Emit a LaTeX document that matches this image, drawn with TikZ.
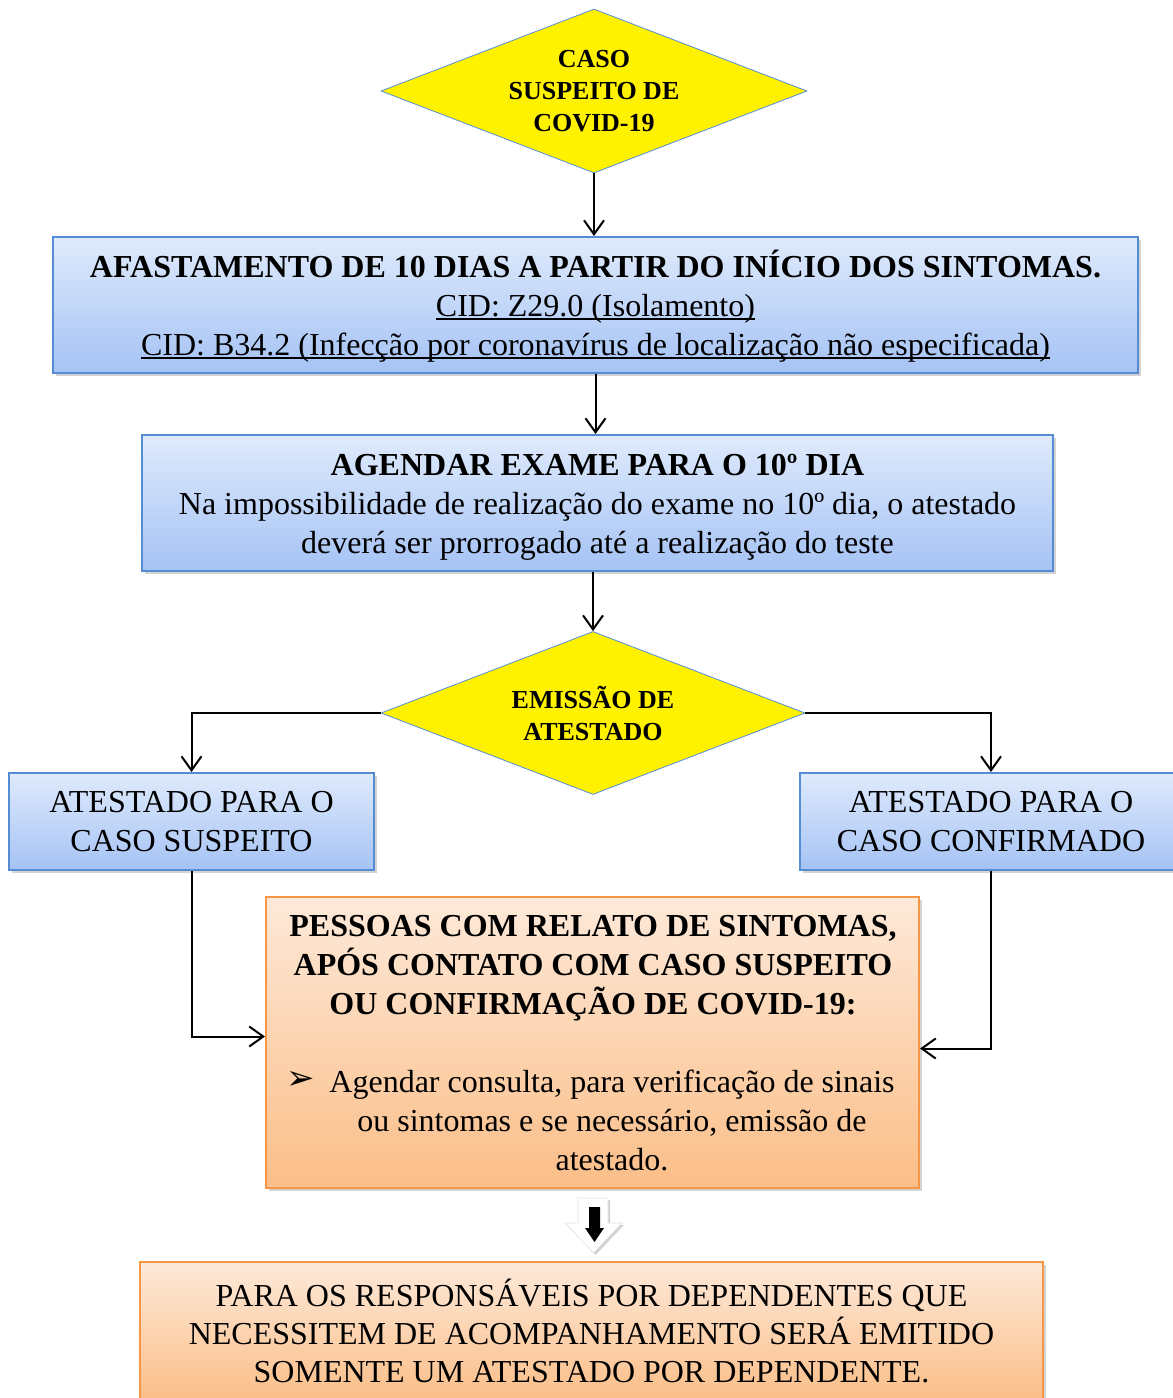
\documentclass[tikz,border=0pt]{standalone}
\usepackage{fontspec}
\setmainfont{Liberation Serif}
\newfontfamily\dejavu{DejaVu Sans}
\usetikzlibrary{shapes.geometric,shadows,arrows.meta}

\definecolor{azulclaro}{HTML}{DFEAFC}
\definecolor{azulescuro}{HTML}{A5C3F5}
\definecolor{azulborda}{HTML}{548DD4}
\definecolor{laranjaclaro}{HTML}{FDE9D9}
\definecolor{laranjaescuro}{HTML}{FBBE88}
\definecolor{laranjaborda}{HTML}{F79646}

% sublinhado rente a linha de base
\newcommand\sublinhado[1]{\setbox0\hbox{#1}\rlap{\rule[-1.6pt]{\wd0}{0.7pt}}\box0}

\begin{document}
\begin{tikzpicture}[x=0.5pt, y=-0.5pt,
	sombra/.style={drop shadow={opacity=0.35, shadow xshift=1.5pt, shadow yshift=-1.5pt}},
	caixa/.style={draw=azulborda, line width=1pt, top color=azulclaro, bottom color=azulescuro, sombra,
		align=center, inner sep=0pt, font=\fontsize{16}{19.5}\selectfont},
	caixalaranja/.style={caixa, draw=laranjaborda, top color=laranjaclaro, bottom color=laranjaescuro},
	losango/.style={diamond, draw=azulborda, line width=0.4pt, fill=yellow, aspect=2.6, inner sep=0pt,
		align=center, font=\fontsize{13}{16}\selectfont\bfseries},
	texto/.style={align=center, inner sep=0pt, font=\fontsize{16}{19.5}\selectfont},
	seta/.style={line width=1pt, -{Straight Barb[length=7pt, width=10pt]}}]
	\useasboundingbox (0,0) rectangle (1173,1398);

	% losangos de decisao
	\node[losango, minimum width=213pt, minimum height=82pt] (caso) at (594,91)
		{CASO\\ SUSPEITO DE\\ COVID-19};
	\node[losango, minimum width=212pt, minimum height=81.5pt] (emissao) at (593,713)
		{EMISSÃO DE\\ ATESTADO};

	% caixas azuis
	\node[caixa, minimum width=542.5pt, minimum height=68pt] (afastamento) at (595.5,305)
		{\rule{0pt}{15pt}\textbf{AFASTAMENTO DE 10 DIAS A PARTIR DO INÍCIO DOS SINTOMAS.}\\
		\sublinhado{CID: Z29.0 (Isolamento)}\\
		\sublinhado{CID: B34.2 (Infecção por coronavírus de localização não especificada)}};
	\node[caixa, minimum width=455.5pt, minimum height=68pt] (agendar) at (597.5,503)
		{\rule{0pt}{14.5pt}\textbf{AGENDAR EXAME PARA O 10º DIA}\\
		Na impossibilidade de realização do exame no 10º dia, o atestado\\
		deverá ser prorrogado até a realização do teste};
	\node[caixa, minimum width=182.5pt, minimum height=48.5pt] (suspeito) at (191.5,821.5)
		{ATESTADO PARA O\\ CASO SUSPEITO};
	\node[caixa, minimum width=191pt, minimum height=48.5pt] (confirmado) at (991,821.5)
		{ATESTADO PARA O\\ CASO CONFIRMADO};

	% caixas laranja
	\node[caixalaranja, minimum width=326.5pt, minimum height=145.5pt] (pessoas) at (592.5,1042.5) {};
	\node[texto, font=\fontsize{16}{19.5}\selectfont\bfseries] (pessoastitulo) at (593,968)
		{PESSOAS COM RELATO DE SINTOMAS,\\ APÓS CONTATO COM CASO SUSPEITO\\ OU CONFIRMAÇÃO DE COVID-19:};
	\node[texto, font=\fontsize{17}{19}\dejavu] (marcador) at (301,1080) {➢};
	\node[texto] (pessoaslista) at (612,1120)
		{Agendar consulta, para verificação de sinais\\ ou sintomas e se necessário, emissão de\\ atestado.};
	\node[caixalaranja, minimum width=451.5pt, minimum height=69pt, font=\fontsize{16}{19}\selectfont] (dependentes) at (591.5,1331)
		{PARA OS RESPONSÁVEIS POR DEPENDENTES QUE\\
		NECESSITEM DE ACOMPANHAMENTO SERÁ EMITIDO\\
		SOMENTE UM ATESTADO POR DEPENDENTE.};

	% ligacoes
	\draw[seta] (caso.south) -- (caso.south |- afastamento.north);
	\draw[seta] (afastamento.south) -- (afastamento.south |- agendar.north);
	\draw[seta] (agendar.south -| emissao.north) -- (emissao.north);
	\draw[seta] (emissao.west) -| (suspeito.north);
	\draw[seta] (emissao.east) -| (confirmado.north);
	\draw[seta] (suspeito.south) |- ([yshift=3pt]pessoas.west);
	\draw[seta] (confirmado.south) |- ([yshift=-3pt]pessoas.east);

	% seta de bloco
	\fill[black!30, opacity=0.6] (580,1200) -- (610,1200) -- (610,1225) -- (624,1225) -- (595.5,1255)
		-- (567,1225) -- (580,1225) -- cycle;
	\filldraw[fill=white, draw=black!12, line width=0.3pt] (578,1198) -- (608,1198) -- (608,1223) -- (622,1223)
		-- (593.5,1253) -- (565,1223) -- (578,1223) -- cycle;
	\fill[black] (589,1207) -- (600,1207) -- (600,1228) -- (604,1228) -- (594.5,1242)
		-- (585,1228) -- (589,1228) -- cycle;
\end{tikzpicture}
\end{document}
